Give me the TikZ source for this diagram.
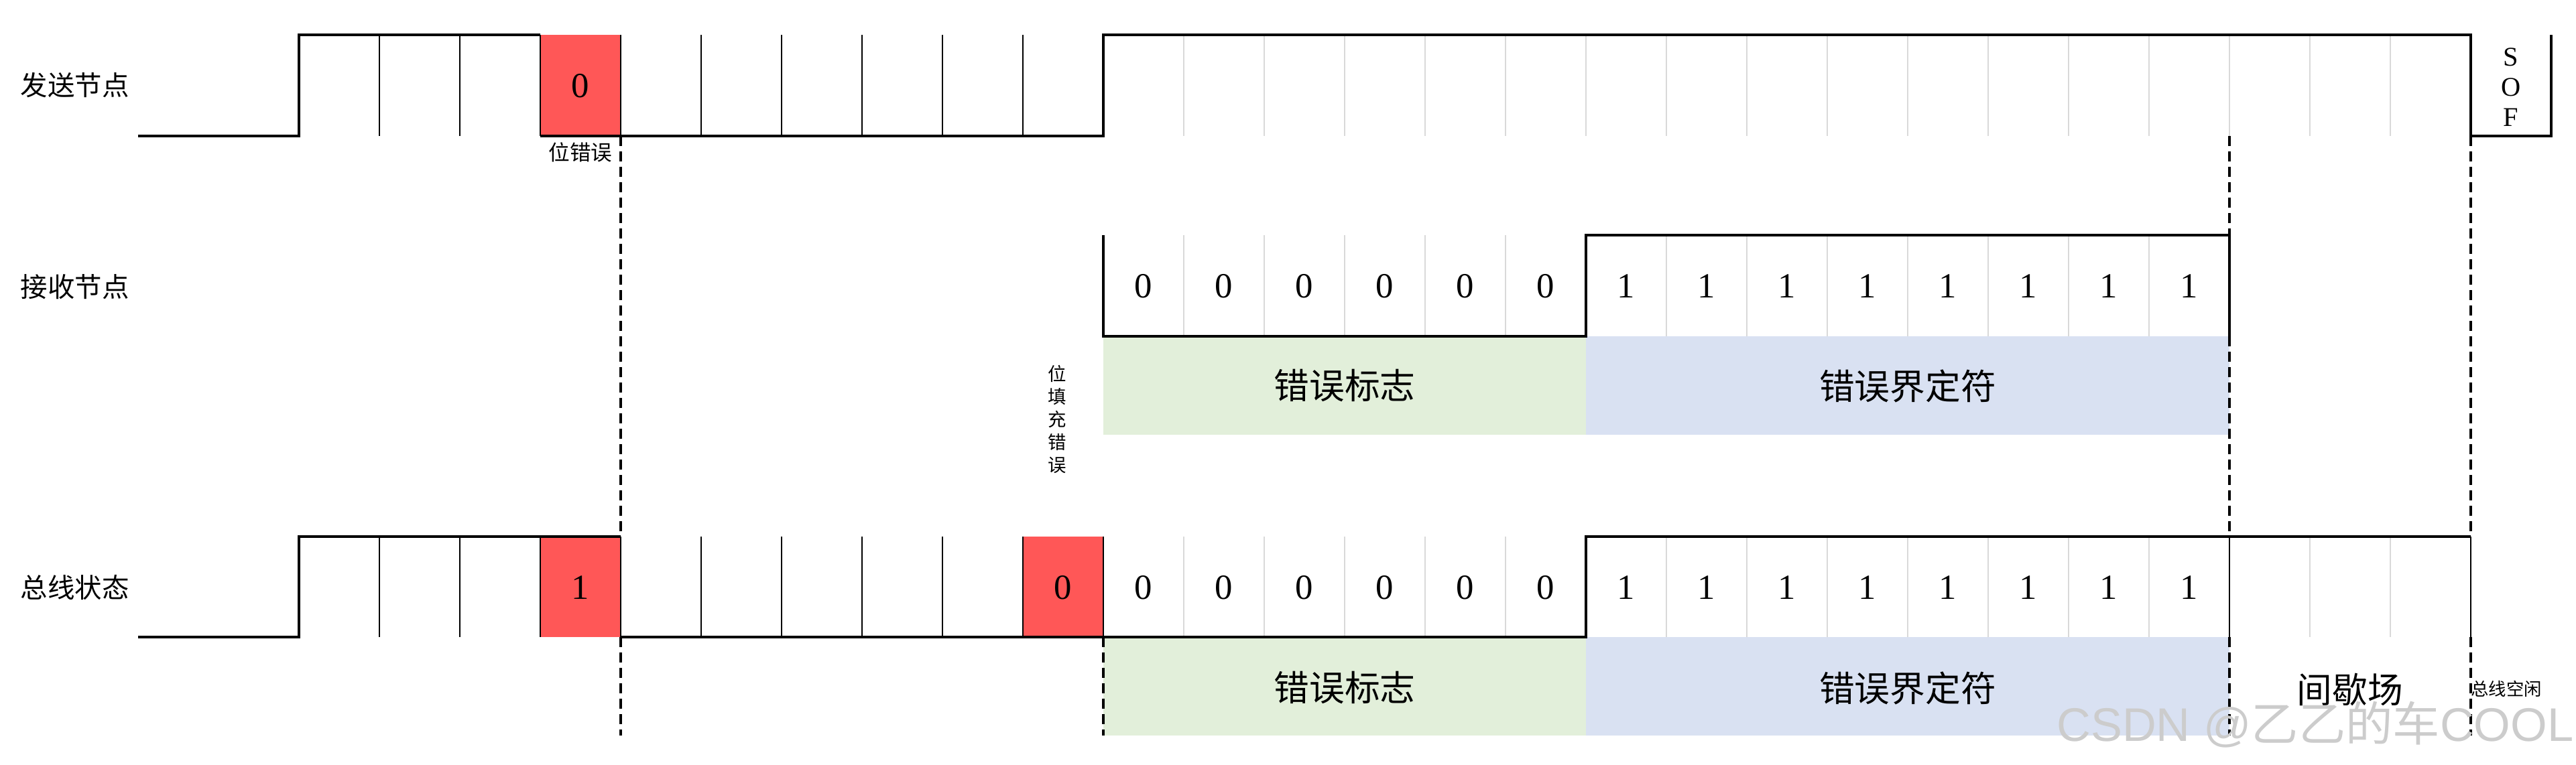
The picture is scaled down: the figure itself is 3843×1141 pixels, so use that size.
\documentclass[tikz,border=0pt]{standalone}
\usepackage{fontspec}
\setmainfont{Liberation Serif}
\newfontfamily\cjk{Noto Sans CJK SC}
\newfontfamily\wmfont{Liberation Sans}
\definecolor{errred}{RGB}{255,87,87}
\definecolor{flaggreen}{RGB}{226,239,218}
\definecolor{delimblue}{RGB}{217,225,242}
\definecolor{gridgray}{RGB}{217,217,217}
\begin{document}
\begin{tikzpicture}[x=0.01cm,y=-0.01cm,
  lvl/.style={line width=1.1pt},
  vline/.style={line width=0.8pt},
  gline/.style={line width=0.6pt, draw=gridgray},
  dline/.style={line width=0.9pt, dash pattern=on 0.15cm off 0.08cm},
  rowlabel/.style={anchor=west, inner sep=0pt, font=\cjk\fontsize{11.5pt}{14pt}\selectfont},
  bitdigit/.style={inner sep=0pt, font=\fontsize{15pt}{18pt}\selectfont},
  boxlabel/.style={inner sep=0pt, font=\cjk\fontsize{15pt}{18pt}\selectfont},
  smalllabel/.style={inner sep=0pt, font=\cjk\fontsize{9pt}{11pt}\selectfont},
  tinylabel/.style={inner sep=0pt, font=\cjk\fontsize{7.5pt}{9pt}\selectfont}]
\fill[white] (0,0) rectangle (3843,1141);
\useasboundingbox (0,0) rectangle (3843,1141);

% ---------- fills ----------
\fill[errred] (806,52) rectangle (926,203);
\fill[flaggreen] (1646,502) rectangle (2366,649);
\fill[delimblue] (2366,502) rectangle (3326,649);
\fill[errred] (806,801) rectangle (926,951);
\fill[errred] (1526,801) rectangle (1646,951);
\fill[flaggreen] (1646,951) rectangle (2366,1098);
\fill[delimblue] (2366,951) rectangle (3326,1098);

% ---------- grey bit separators ----------
\foreach \k in {11,...,26} \draw[gline] ({446+120*\k},52) -- ({446+120*\k},203);
\foreach \k in {11,...,15,17,18,...,23} \draw[gline] ({446+120*\k},351) -- ({446+120*\k},502);
\foreach \k in {11,...,15,17,18,...,23,25,26} \draw[gline] ({446+120*\k},801) -- ({446+120*\k},951);

% ---------- row 1: sending node ----------
\draw[lvl] (206,203) -- (446,203) -- (446,52) -- (806,52);
\draw[lvl] (806,203) -- (1646,203) -- (1646,52) -- (3686,52) -- (3686,203) -- (3806,203) -- (3806,52);
\foreach \x in {566,686,806,926,1046,1166,1286,1406,1526} \draw[vline] (\x,52) -- (\x,203);

% ---------- row 2: receiving node ----------
\draw[lvl] (1646,351) -- (1646,502) -- (2366,502) -- (2366,351) -- (3326,351) -- (3326,502);

% ---------- row 3: bus state ----------
\draw[lvl] (206,951) -- (446,951) -- (446,801) -- (926,801);
\draw[lvl] (926,951) -- (2366,951) -- (2366,801) -- (3686,801);
\foreach \x in {566,686,806,926,1046,1166,1286,1406,1526,1646,3326} \draw[vline] (\x,801) -- (\x,951);
\draw[vline] (3686,801) -- (3686,951);

% ---------- dashed markers ----------
\draw[dline] (926,203) -- (926,801);
\draw[dline] (926,951) -- (926,1098);
\draw[dline] (1646,951) -- (1646,1098);
\draw[dline] (3326,203) -- (3326,351);
\draw[dline] (3326,502) -- (3326,801);
\draw[dline] (3326,951) -- (3326,1098);
\draw[dline] (3686,203) -- (3686,801);
\draw[dline] (3686,951) -- (3686,1098);

% ---------- labels ----------
\node[rowlabel] (lab1) at (30,127) {发送节点};
\node[rowlabel] (lab2) at (30,428) {接收节点};
\node[rowlabel] (lab3) at (30,877) {总线状态};

\node[bitdigit] (r1err) at (866,128) {0};
\node[smalllabel] (biterr) at (866,227) {位错误};
\node[inner sep=0pt, align=center, font=\fontsize{11.5pt}{12.8pt}\selectfont] (sof) at (3746,130) {S\\O\\F};

\foreach \k [count=\i] in {10,...,15} \node[bitdigit] (r2z\i) at ({506+120*\k},427) {0};
\foreach \k [count=\i] in {16,...,23} \node[bitdigit] (r2o\i) at ({506+120*\k},427) {1};
\node[boxlabel] (flag2) at (2006,576) {错误标志};
\node[boxlabel] (delim2) at (2846,576) {错误界定符};
\node[inner sep=0pt, align=center, font=\cjk\fontsize{7.8pt}{9.7pt}\selectfont] (stufferr) at (1577,626) {位\\填\\充\\错\\误};

\node[bitdigit] (r3err1) at (866,877) {1};
\node[bitdigit] (r3err0) at (1586,877) {0};
\foreach \k [count=\i] in {10,...,15} \node[bitdigit] (r3z\i) at ({506+120*\k},877) {0};
\foreach \k [count=\i] in {16,...,23} \node[bitdigit] (r3o\i) at ({506+120*\k},877) {1};
\node[boxlabel] (flag3) at (2006,1027) {错误标志};
\node[boxlabel] (delim3) at (2846,1027) {错误界定符};
\node[boxlabel] (inter) at (3506,1029) {间歇场};
\node[tinylabel] (idle) at (3739,1028) {总线空闲};

% ---------- watermark ----------
\node[anchor=east, inner sep=0pt, text=black!20, font=\fontsize{20pt}{22pt}\selectfont] (wm) at (3840,1082) {\wmfont CSDN @\cjk 乙乙的车\wmfont COOL};
\end{tikzpicture}
\end{document}
